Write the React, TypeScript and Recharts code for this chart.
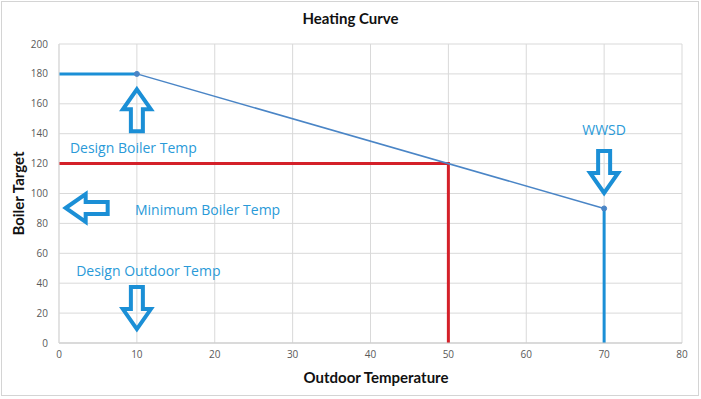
import React from "react";
import {
  LineChart,
  Line,
  XAxis,
  YAxis,
  CartesianGrid,
  ReferenceDot,
} from "recharts";

// outdoor temperature ticks and boiler target ticks
const xTicks = [0, 10, 20, 30, 40, 50, 60, 70, 80];
const yTicks = [0, 20, 40, 60, 80, 100, 120, 140, 160, 180, 200];

// design boiler temp plateau
const flatTemps = [0, 10];
const flatTargets = [180, 180];

// heating curve (design point -> WWSD)
const curveTemps = [10, 70];
const curveTargets = [180, 90];

// red marker at 50°F outdoor
const markerTemps = [0, 50, 50];
const markerTargets = [120, 120, 0];

// warm weather shut down drop
const wwsdTemps = [70, 70];
const wwsdTargets = [90, 0];

const notes = [
  { text: "Design Boiler Temp", x: 1.4, y: 130.5, anchor: "start" },
  { text: "Minimum Boiler Temp", x: 9.75, y: 89.6, anchor: "start" },
  { text: "Design Outdoor Temp", x: 2.2, y: 48.8, anchor: "start" },
  { text: "WWSD", x: 70, y: 143, anchor: "middle" },
];

const arrows = [
  { x: 10, y: 171, rot: 0 },
  { x: 10, y: 8, rot: 180 },
  { x: 70, y: 99, rot: 180 },
  { x: 0.6, y: 90.3, rot: -90 },
];

const zip = (xs: number[], ys: number[]) => xs.map((x, i) => ({ x, y: ys[i] }));

const BLUE = "#1b8fd6";
const NOTE = "#2a9ad8";

const Arrow = ({ cx, cy, rot }: any) => (
  <path
    d={`M${cx},${cy + 2} L${cx + 14},${cy + 22} L${cx + 6},${cy + 22} L${cx + 6},${cy + 44} L${cx - 6},${cy + 44} L${cx - 6},${cy + 22} L${cx - 14},${cy + 22} Z`}
    fill="none"
    stroke={BLUE}
    strokeWidth={4}
    strokeLinejoin="miter"
    transform={`rotate(${rot} ${cx} ${cy})`}
  />
);

const Note = ({ cx, cy, text, anchor }: any) => (
  <text
    x={cx}
    y={cy}
    textAnchor={anchor}
    dominantBaseline="central"
    fill={NOTE}
    fontSize={14}
    fontFamily="'Open Sans', sans-serif"
  >
    {text}
  </text>
);

const tickStyle = { fontSize: 10, fill: "#595959", fontFamily: "'Open Sans', sans-serif" };

export default function App() {
  return (
    <div
      style={{
        position: "absolute",
        left: 0,
        top: 0,
        width: 701,
        height: 399,
        background: "#fff",
      }}
    >
      <style>{"body{margin:0}"}</style>
      <div
        style={{
          position: "absolute",
          left: 1,
          top: 1,
          width: 698,
          height: 395,
          boxSizing: "border-box",
          border: "1px solid #d4d4d4",
        }}
      />
      <div
        style={{
          position: "absolute",
          left: 0,
          top: 9,
          width: 701,
          textAlign: "center",
          fontFamily: "Lato, sans-serif",
          fontWeight: 700,
          fontSize: 15,
          color: "#111",
        }}
      >
        Heating Curve
      </div>
      <LineChart
        width={701}
        height={399}
        margin={{ top: 44, right: 19, left: 19, bottom: 26 }}
        style={{ position: "absolute", left: 0, top: 0 }}
      >
        <CartesianGrid stroke="#d9d9d9" strokeWidth={1} />
        <XAxis
          type="number"
          dataKey="x"
          domain={[0, 80]}
          ticks={xTicks}
          height={30}
          tickLine={false}
          axisLine={{ stroke: "#c8c8c8" }}
          tick={tickStyle}
          label={{
            content: ({ viewBox }: any) => (
              <text
                x={376}
                y={viewBox.y + 34}
                textAnchor="middle"
                dominantBaseline="central"
                fontFamily="Lato, sans-serif"
                fontWeight={700}
                fontSize={15}
                fill="#111"
              >
                Outdoor Temperature
              </text>
            ),
          }}
        />
        <YAxis
          type="number"
          domain={[0, 200]}
          ticks={yTicks}
          width={40}
          tickLine={false}
          tickMargin={5}
          axisLine={{ stroke: "#d9d9d9" }}
          tick={tickStyle}
          label={{
            content: ({ viewBox }: any) => {
              const cy = viewBox.y + viewBox.height / 2;
              return (
                <text
                  x={18}
                  y={cy}
                  textAnchor="middle"
                  dominantBaseline="central"
                  transform={`rotate(-90 18 ${cy})`}
                  fontFamily="Lato, sans-serif"
                  fontWeight={700}
                  fontSize={15}
                  fill="#111"
                >
                  Boiler Target
                </text>
              );
            },
          }}
        />
        <Line
          data={zip(markerTemps, markerTargets)}
          dataKey="y"
          type="linear"
          stroke="#d42029"
          strokeWidth={3}
          dot={false}
          isAnimationActive={false}
        />
        <Line
          data={zip(flatTemps, flatTargets)}
          dataKey="y"
          type="linear"
          stroke={BLUE}
          strokeWidth={3}
          dot={false}
          isAnimationActive={false}
        />
        <Line
          data={zip(wwsdTemps, wwsdTargets)}
          dataKey="y"
          type="linear"
          stroke={BLUE}
          strokeWidth={3}
          dot={false}
          isAnimationActive={false}
        />
        <Line
          data={zip(curveTemps, curveTargets)}
          dataKey="y"
          type="linear"
          stroke="#4a85c6"
          strokeWidth={1.5}
          dot={{ r: 2.5, fill: "#4a85c6", stroke: "#4a85c6", strokeWidth: 1 }}
          isAnimationActive={false}
        />
        {arrows.map((a, i) => (
          <ReferenceDot
            key={`a${i}`}
            x={a.x}
            y={a.y}
            r={0}
            shape={(p: any) => <Arrow cx={p.cx} cy={p.cy} rot={a.rot} />}
          />
        ))}
        {notes.map((n, i) => (
          <ReferenceDot
            key={`n${i}`}
            x={n.x}
            y={n.y}
            r={0}
            shape={(p: any) => <Note cx={p.cx} cy={p.cy} text={n.text} anchor={n.anchor} />}
          />
        ))}
      </LineChart>
    </div>
  );
}
